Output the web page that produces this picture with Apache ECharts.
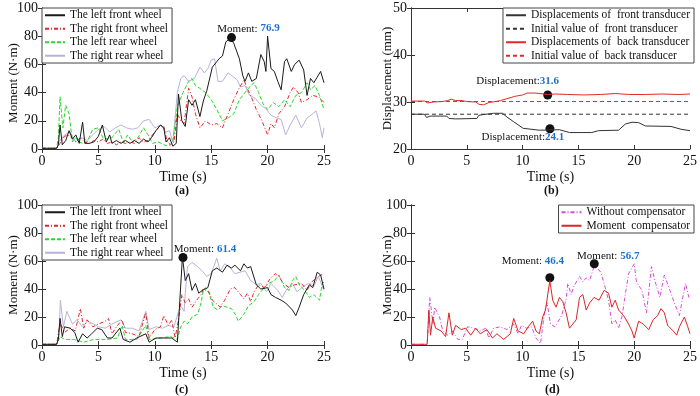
<!DOCTYPE html>
<html>
<head>
<meta charset="utf-8">
<script src="https://cdn.jsdelivr.net/npm/echarts@6.0.0/dist/echarts.min.js"></script>
<style>
  html, body { margin: 0; padding: 0; background: #fff; }
  #main { width: 700px; height: 396px; }
</style>
</head>
<body>
<div id="main"></div>
<script>
// ---- data (time s, value) ----
// (a) moment of each wheel
var aLeftFront = [[0,0.5],[1.3,0.5],[1.45,3],[1.6,17],[1.8,3],[2.1,6],[2.4,13],[2.7,7],[3.0,10],[3.3,4],[3.6,19],[3.8,4],[4.2,4],[4.6,5],[5.0,9],[5.35,17],[5.7,5],[6.0,10],[6.2,4],[6.6,6],[7.0,4],[7.4,6],[7.8,4],[8.2,6],[8.6,4],[9.0,7],[9.4,5],[9.7,8],[10.1,13],[10.5,17],[10.8,15],[11.0,5],[11.3,8],[11.6,2],[11.9,4],[12.1,39],[12.4,20],[12.7,16],[13.0,35],[13.3,31],[13.6,35],[14.0,23],[14.3,34],[14.6,41],[15.1,58],[15.4,61],[15.7,64],[16.0,66],[16.3,76],[16.7,78.5],[17.0,75],[17.5,64],[17.8,52],[18.0,48],[18.3,54],[18.6,48],[19.0,50],[19.4,67],[19.7,62],[19.85,55],[20.0,80],[20.3,57],[20.6,55],[20.9,48],[21.2,42],[21.5,62],[21.7,64],[22.1,55],[22.4,60],[22.8,63],[23.2,56],[23.5,38],[23.8,50],[24.1,47],[24.4,51],[24.7,55],[25.0,47]];
var aRightFront = [[0,0.5],[1.3,0.5],[1.6,4],[2.0,9],[2.3,10],[2.6,8],[3.0,5],[3.4,8],[3.8,5],[4.2,4],[4.6,6],[5.0,5],[5.4,7],[5.8,4],[6.2,5],[6.6,3],[7.0,5],[7.4,4],[7.8,5],[8.2,4],[8.6,8],[9.0,5],[9.4,6],[9.8,10],[10.2,14],[10.5,17],[10.8,16],[11.1,5],[11.4,3],[11.7,5],[12.0,25],[12.3,20],[12.6,18],[13.0,43],[13.3,37],[13.6,25],[14.0,15],[14.5,20],[15.0,17],[15.5,18],[16.0,15],[16.5,25],[17.0,35],[17.4,42],[17.9,49],[18.2,43],[18.6,36],[19.0,28],[19.5,20],[20.0,10],[20.3,18],[20.6,15],[21.0,25],[21.5,30],[22.0,40],[22.3,44],[22.7,40],[23.0,33],[23.5,35],[24.0,38],[24.5,37],[25.0,33]];
var aLeftRear = [[0,0.5],[1.3,0.5],[1.45,8],[1.6,37],[1.85,15],[2.1,31],[2.4,25],[2.7,5],[3.0,8],[3.3,5],[3.6,4],[4.0,5],[4.5,14],[5.0,15],[5.4,8],[5.8,7],[6.2,8],[6.8,14],[7.2,5],[7.6,10],[8.0,5],[8.5,8],[9.0,15],[9.4,10],[9.8,4],[10.3,5],[10.8,3],[11.2,2],[11.6,5],[12.0,30],[12.5,40],[13.0,48],[13.3,50],[13.6,45],[14.0,43],[14.5,40],[15.0,35],[15.5,28],[16.0,20],[16.5,22],[17.0,25],[17.5,35],[18.0,40],[18.5,45],[18.8,47],[19.2,40],[19.6,32],[20.0,28],[20.5,33],[21.0,30],[21.5,35],[22.0,30],[22.5,38],[23.0,40],[23.5,47],[23.8,42],[24.2,45],[24.6,38],[25.0,28]];
var aRightRear = [[0,0.5],[1.3,0.5],[1.5,5],[2.0,10],[2.5,12],[3.0,5],[3.5,8],[4.0,6],[4.5,10],[5.0,14],[5.5,16],[6.0,12],[6.5,15],[7.0,17],[7.5,15],[8.0,14],[8.5,15],[9.0,20],[9.5,21],[10.0,15],[10.5,17],[11.0,12],[11.3,13],[11.6,5],[12.0,40],[12.3,50],[12.6,52],[13.0,48],[13.5,50],[14.0,58],[14.4,54],[14.7,57],[15.0,63],[15.3,64],[15.6,48],[16.0,48],[16.5,54],[17.0,51],[17.3,49],[17.6,44],[18.0,45],[18.4,38],[18.9,36],[19.4,31],[19.8,29],[20.3,24],[20.8,22],[21.2,21],[21.6,10],[22.0,17],[22.5,24],[23.0,15],[23.5,22],[24.0,25],[24.3,27],[24.6,18],[24.85,8],[25.0,15]];

// (b) transducer displacements
var bFrontDisp = [[0,27.4],[1.2,27.4],[1.4,26.7],[1.7,27.0],[3.2,27.0],[3.4,26.5],[4.0,26.4],[5.9,26.5],[6.1,27.2],[7.4,27.6],[8.2,27.6],[8.6,26.8],[9.2,25.8],[10.05,24.4],[11.5,24.0],[13.3,24.1],[14.2,23.5],[16.2,23.5],[16.8,23.9],[18.6,24.0],[19.2,25.3],[19.8,25.7],[20.4,25.6],[21.0,24.9],[23.3,24.8],[24.2,24.2],[25.0,23.9]];
var bFrontInit = [[0,27.4],[25,27.4]];
var bBackDisp = [[0,30.2],[1.2,30.2],[1.5,29.8],[2.0,30.0],[2.8,30.1],[3.3,30.3],[3.6,30.6],[4.0,30.3],[4.6,30.3],[5.0,30.1],[5.8,30.0],[6.1,29.5],[6.5,29.4],[7.0,29.9],[7.6,30.1],[8.0,30.3],[8.6,30.7],[9.3,31.2],[10.0,31.5],[10.4,31.9],[11.2,31.9],[12.2,31.6],[13.0,31.7],[14.0,31.6],[15.5,31.5],[17.0,31.6],[18.3,31.8],[19.5,31.6],[21.0,31.6],[22.5,31.7],[24.0,31.6],[25.0,31.7]];
var bBackInit = [[0,30.1],[25,30.1]];

// (c) moment of each wheel, second test
var cLeftFront = [[0,0.5],[1.3,0.5],[1.45,4],[1.6,19],[1.8,6],[2.0,13],[2.5,12],[2.9,9],[3.2,2],[3.6,8],[4.0,5],[4.4,8],[4.9,12],[5.3,11],[5.8,5],[6.2,5],[6.9,12],[7.2,4],[7.8,2],[8.4,5],[9.2,8],[9.5,2],[10.1,5],[10.8,5],[11.5,5],[12.0,2],[12.45,63],[12.7,46],[13.0,51],[13.3,39],[13.6,44],[13.9,37],[14.2,39],[14.7,41],[15.1,53],[15.5,55],[16.0,52],[16.4,57],[16.8,55],[17.1,57],[17.6,53],[17.9,58],[18.2,55],[18.5,56],[19.0,43],[19.4,40],[20.0,41],[20.3,36],[20.7,34],[21.2,32],[21.6,30],[22.2,25],[22.5,21],[22.8,27],[23.2,36],[23.7,43],[24.0,41],[24.4,52],[24.7,50],[25.0,40]];
var cRightFront = [[0,0.5],[1.3,0.5],[1.5,11],[1.65,15],[2.0,9],[2.5,12],[2.95,10],[3.4,26],[3.7,12],[4.0,18],[4.5,13],[5.0,15],[5.6,17],[5.9,19],[6.2,8],[6.6,13],[7.1,18],[7.4,9],[8.0,8],[8.6,6],[9.2,23],[9.5,5],[10.0,11],[10.5,13],[10.8,21],[11.2,14],[11.5,18],[11.8,5],[12.1,18],[12.4,36],[12.7,30],[13.0,33],[13.3,27],[13.8,33],[14.1,36],[14.3,40],[14.8,38],[15.1,32],[15.4,30],[15.8,27],[16.2,32],[16.7,40],[17.1,41],[17.6,36],[17.9,33],[18.2,37],[18.5,31],[18.8,38],[19.2,43],[19.7,41],[20.2,47],[20.7,51],[21.0,49],[21.4,44],[21.9,41],[22.4,43],[23.0,44],[23.5,39],[23.9,45],[24.5,49],[25.0,51]];
var cLeftRear = [[0,0.5],[1.3,0.5],[1.6,6],[2.0,4],[2.8,4],[3.7,2],[4.6,4],[5.8,4],[6.7,5],[7.1,14],[7.4,4],[8.4,4],[9.2,14],[9.5,4],[10.5,5],[11.4,6],[12.0,4],[12.3,13],[12.6,17],[12.9,15],[13.3,20],[13.8,22],[14.1,30],[14.3,39],[14.5,41],[14.8,37],[15.2,27],[15.6,25],[16.0,28],[16.4,27],[16.8,26],[17.2,21],[17.4,17],[17.9,22],[18.3,28],[18.8,31],[19.2,36],[19.7,41],[20.1,44],[20.6,46],[21.0,50],[21.5,41],[21.9,39],[22.2,46],[22.5,49],[22.8,43],[23.3,39],[23.7,34],[24.1,36],[24.6,32],[24.85,44],[25.0,45]];
var cRightRear = [[0,0.5],[1.3,0.5],[1.5,6],[1.63,32],[1.9,13],[2.2,24],[2.7,15],[3.1,18],[3.6,13],[4.0,17],[4.6,15],[5.0,13],[5.6,12],[6.2,15],[7.0,18],[7.4,12],[8.0,12],[8.6,10],[9.2,24],[9.5,11],[10.1,13],[10.7,12],[11.2,14],[11.7,13],[12.1,24],[12.4,27],[12.6,24],[12.7,37],[12.9,56],[13.3,59],[13.8,56],[14.2,53],[14.6,49],[15.0,51],[15.5,62],[15.8,53],[16.2,58],[16.7,55],[17.1,51],[17.6,52],[18.0,53],[18.5,46],[19.0,43],[19.4,44],[19.9,38],[20.3,44],[20.9,39],[21.3,34],[21.7,40],[22.2,44],[22.6,38],[23.2,42],[23.6,44],[24.1,42],[24.5,49],[25.0,39]];

// (d) moment with / without compensator
var dWithout = [[0,0.5],[1.45,0.5],[1.68,34],[1.97,15],[2.12,27],[2.56,20],[2.85,10],[3.3,7],[3.7,10],[4.2,4],[4.6,4],[5.06,13],[5.65,12],[6.2,10],[6.7,12],[6.97,5],[7.4,12],[8.0,13],[8.6,11],[9.2,15],[9.6,8],[9.9,14],[10.35,12],[10.8,13],[11.2,5],[11.6,1],[12.0,25],[12.2,30],[12.5,15],[12.9,13],[13.5,21],[13.9,33],[14.05,44],[14.35,36],[14.6,42],[15.1,49],[15.4,45],[15.7,48],[16.0,46],[16.4,56],[16.7,55],[17.0,52],[17.3,44],[17.7,32],[18.0,15],[18.3,18],[18.6,12],[18.9,20],[19.2,36],[19.5,51],[20.0,58],[20.2,45],[20.7,39],[21.1,23],[21.55,56],[21.85,46],[22.3,34],[22.7,50],[23.2,39],[23.6,30],[24.05,21],[24.35,34],[24.6,44],[24.9,34],[25.0,33]];
var dWith = [[0,0.5],[1.45,0.5],[1.6,25],[1.75,7],[1.95,20],[2.2,12],[2.7,10],[3.1,6],[3.4,23],[3.7,7],[4.0,14],[4.5,11],[4.9,12],[5.35,7],[5.8,12],[6.2,8],[6.8,11],[7.3,5],[7.7,8],[8.3,4],[8.9,8],[9.2,19],[9.6,10],[10.1,8],[10.5,13],[10.9,17],[11.2,10],[11.5,8],[11.8,20],[12.05,25],[12.44,46],[12.7,32],[13.0,27],[13.3,34],[13.6,31],[13.9,23],[14.2,12],[14.5,15],[14.8,18],[15.1,34],[15.4,36],[15.7,25],[16.0,30],[16.4,34],[16.85,32],[17.3,39],[17.7,37],[18.0,27],[18.3,32],[18.6,25],[19.05,21],[19.5,15],[19.8,10],[20.0,5],[20.4,17],[20.8,15],[21.3,11],[21.7,18],[22.1,21],[22.4,26],[22.7,23],[23.0,14],[23.5,10],[23.8,7],[24.05,13],[24.5,20],[24.8,13],[25.0,8]];

// highlighted points: [time, value, label value]
var peaksA = [[16.8, 79, '76.9']];
var peaksB = [[12.25, 31.5, '31.6'], [12.45, 24.3, '24.1']];
var peaksC = [[12.5, 62.5, '61.4']];
var peaksD = [[12.44, 48, '46.4'], [16.42, 58, '56.7']];

var wheelNames = ['The left front wheel', 'The right front wheel', 'The left rear wheel', 'The right rear wheel'];
var bNames = ['Displacements of  front transducer', 'Initial value of  front transducer', 'Displacements of  back transducer', 'Initial value of  back transducer'];
var dNames = ['Without compensator', 'Moment  compensator'];

var FONT = "'Liberation Serif', 'Times New Roman', serif";
var AX = '#333';
var dashDot = [4, 2, 1, 2];

var myChart = echarts.init(document.getElementById('main'));

var grids = [
  {left: 42, top: 8, width: 282, height: 141},
  {left: 411, top: 8, width: 283, height: 141},
  {left: 42, top: 205, width: 282, height: 140},
  {left: 411, top: 205, width: 283, height: 140}
];
var yRanges = [[0, 100, 20, 'Moment (N\u00b7m)'], [20, 50, 10, 'Displacement (mm)'], [0, 100, 20, 'Moment (N\u00b7m)'], [0, 100, 20, 'Moment (N\u00b7m)']];

var xAxes = [], yAxes = [];
grids.forEach(function (g, i) {
  xAxes.push({
    gridIndex: i, type: 'value', min: 0, max: 25, interval: 5,
    name: 'Time (s)', nameLocation: 'middle', nameGap: 21, nameMoveOverlap: false,
    nameTextStyle: {fontFamily: FONT, fontSize: 14, color: '#111'},
    axisLine: {lineStyle: {color: AX}},
    axisTick: {inside: true, length: 4, lineStyle: {color: AX}},
    axisLabel: {fontFamily: FONT, fontSize: 14, color: '#111', margin: 5},
    splitLine: {show: false}
  });
  xAxes.push({
    gridIndex: i, type: 'value', position: 'top', min: 0, max: 25, interval: 5,
    axisLine: {show: true, lineStyle: {color: AX}},
    axisTick: {inside: true, length: 4, lineStyle: {color: AX}},
    axisLabel: {show: false}, splitLine: {show: false}
  });
  var r = yRanges[i];
  yAxes.push({
    gridIndex: i, type: 'value', min: r[0], max: r[1], interval: r[2],
    name: r[3], nameLocation: 'middle', nameGap: i % 2 ? 17 : 22, nameMoveOverlap: false,
    nameTextStyle: {fontFamily: FONT, fontSize: 13, color: '#111', padding: i === 0 ? [0, 9, 0, 0] : 0},
    axisLine: {show: true, lineStyle: {color: AX}},
    axisTick: {inside: true, length: 4, lineStyle: {color: AX}},
    axisLabel: {fontFamily: FONT, fontSize: 14, color: '#111', margin: 4},
    splitLine: {show: false}
  });
  yAxes.push({
    gridIndex: i, type: 'value', position: 'right', min: r[0], max: r[1], interval: r[2],
    axisLine: {show: true, lineStyle: {color: AX}},
    axisTick: {inside: true, length: 4, lineStyle: {color: AX}},
    axisLabel: {show: false}, splitLine: {show: false}
  });
});

function line(name, data, gi, color, type, z) {
  return {
    name: name, type: 'line', data: data,
    xAxisIndex: gi * 2, yAxisIndex: gi * 2,
    symbol: 'none', z: z, silent: true,
    lineStyle: {color: color, width: 1, type: type},
    itemStyle: {color: color}
  };
}

function marks(peaks, offsets, prefix) {
  return {
    symbol: 'circle', symbolSize: 9,
    itemStyle: {color: '#111'},
    data: peaks.map(function (p, k) {
      return {
        coord: [p[0], p[1]],
        label: {
          show: true, position: 'inside', offset: offsets[k],
          formatter: '{a|' + prefix + '}{b|' + p[2] + '}',
          rich: {
            a: {fontFamily: FONT, fontSize: 11, color: '#111'},
            b: {fontFamily: FONT, fontSize: 11, color: '#1f6fd0', fontWeight: 'bold'}
          }
        }
      };
    })
  };
}

var wheelColors = ['#1a1a1a', '#e0262a', '#2bd62b', '#b7b3d6'];
var wheelTypes = ['solid', dashDot, [4, 2], 'solid'];
var wheelZ = [6, 5, 4, 3];

var series = [];
[[aLeftFront, aRightFront, aLeftRear, aRightRear, 0], [cLeftFront, cRightFront, cLeftRear, cRightRear, 2]].forEach(function (set) {
  for (var k = 0; k < 4; k++) {
    series.push(line(wheelNames[k], set[k], set[4], wheelColors[k], wheelTypes[k], wheelZ[k]));
  }
});
series[0].markPoint = marks(peaksA, [[17, -9]], 'Moment: ');
series[4].markPoint = marks(peaksC, [[22, -8]], 'Moment: ');

var sFront = line(bNames[0], bFrontDisp, 1, '#333', 'solid', 5);
sFront.markPoint = marks([peaksB[1]], [[-27, 8]], 'Displacement:');
var sBack = line(bNames[2], bBackDisp, 1, '#e02a2a', 'solid', 5);
sBack.markPoint = marks([peaksB[0]], [[-30, -14]], 'Displacement:');
series.push(sFront, line(bNames[1], bFrontInit, 1, '#333', [4, 3], 4), sBack, line(bNames[3], bBackInit, 1, '#e02a2a', [4, 3], 4));

var sWithout = line(dNames[0], dWithout, 3, '#d84ad8', dashDot, 4);
var sWith = line(dNames[1], dWith, 3, '#d92626', 'solid', 5);
sWith.markPoint = marks([peaksD[0]], [[-17, -17]], 'Moment: ');
sWithout.markPoint = marks([peaksD[1]], [[14, -8]], 'Moment: ');
series.push(sWithout, sWith);

function legend(names, pos) {
  return Object.assign({
    data: names, orient: 'vertical', selectedMode: false,
    itemWidth: 20, itemHeight: 8, itemGap: 1,
    padding: [1, 4, 1, 2],
    backgroundColor: '#fff', borderColor: '#444', borderWidth: 1,
    itemStyle: {color: 'transparent', borderWidth: 0, opacity: 0},
    textStyle: {fontFamily: FONT, fontSize: 11.5, color: '#111', lineHeight: 12.5}
  }, pos);
}

var option = {
  animation: false,
  backgroundColor: '#fff',
  grid: grids,
  xAxis: xAxes,
  yAxis: yAxes,
  legend: [
    legend(wheelNames, {left: 42, top: 8}),
    legend(bNames, {right: 6, top: 8}),
    legend(wheelNames, {left: 42, top: 205}),
    legend(dNames, {right: 6, top: 205})
  ],
  graphic: [
    {type: 'text', left: 175, top: 185, style: {text: '(a)', font: 'bold 12px ' + FONT, fill: '#111'}},
    {type: 'text', left: 544, top: 185, style: {text: '(b)', font: 'bold 12px ' + FONT, fill: '#111'}},
    {type: 'text', left: 175, top: 384, style: {text: '(c)', font: 'bold 12px ' + FONT, fill: '#111'}},
    {type: 'text', left: 545, top: 384, style: {text: '(d)', font: 'bold 12px ' + FONT, fill: '#111'}}
  ],
  series: series
};

myChart.setOption(option);
</script>
</body>
</html>
